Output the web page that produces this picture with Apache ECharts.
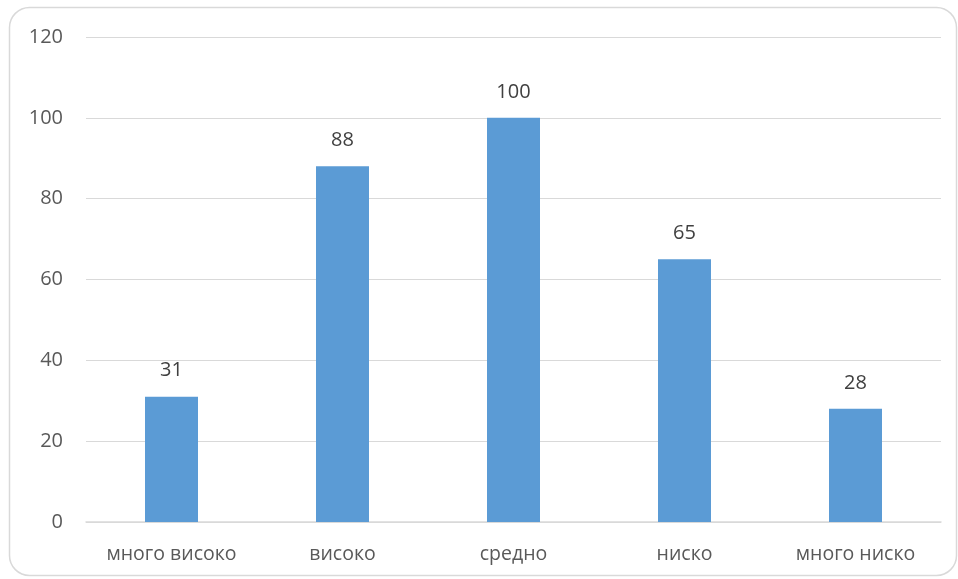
<!DOCTYPE html>
<html>
<head>
<meta charset="utf-8">
<script src="https://cdn.jsdelivr.net/npm/echarts@6/dist/echarts.min.js"></script>
<style>
  html, body { margin: 0; padding: 0; background: #fff; }
  #chart { width: 958px; height: 579px; }
</style>
</head>
<body>
<div id="chart"></div>
<script>
// Distribution of ratings across five levels
const categories = ['много високо', 'високо', 'средно', 'ниско', 'много ниско'];
const values = [31, 88, 100, 65, 28];
const yTicks = { min: 0, max: 120, interval: 20 };

const chart = echarts.init(document.getElementById('chart'));
const textFont = '"Open Sans", "Noto Sans", sans-serif';

chart.setOption({
  animation: false,
  graphic: [{
    type: 'rect',
    shape: { x: 9.5, y: 7.5, width: 947, height: 568, r: 20 },
    style: { fill: 'none', stroke: '#d9d9d9', lineWidth: 1.5 },
    silent: true
  }],
  grid: { left: 86, right: 17, top: 37, bottom: 57 },
  xAxis: {
    type: 'category',
    data: categories,
    axisLine: { lineStyle: { color: '#d9d9d9', width: 1.5 } },
    axisTick: { show: false },
    axisLabel: { color: '#595959', fontSize: 19.5, fontFamily: textFont, margin: 22 }
  },
  yAxis: {
    type: 'value',
    min: yTicks.min, max: yTicks.max, interval: yTicks.interval,
    axisLine: { show: false },
    axisTick: { show: false },
    splitLine: { lineStyle: { color: '#d9d9d9', width: 1.2 } },
    axisLabel: { color: '#595959', fontSize: 20, fontFamily: textFont, margin: 23 }
  },
  series: [{
    type: 'bar',
    data: values,
    barWidth: 53,
    itemStyle: { color: '#5b9bd5' },
    label: {
      show: true, position: 'top', distance: 16,
      color: '#404040', fontSize: 20, fontFamily: textFont
    }
  }]
});
</script>
</body>
</html>
